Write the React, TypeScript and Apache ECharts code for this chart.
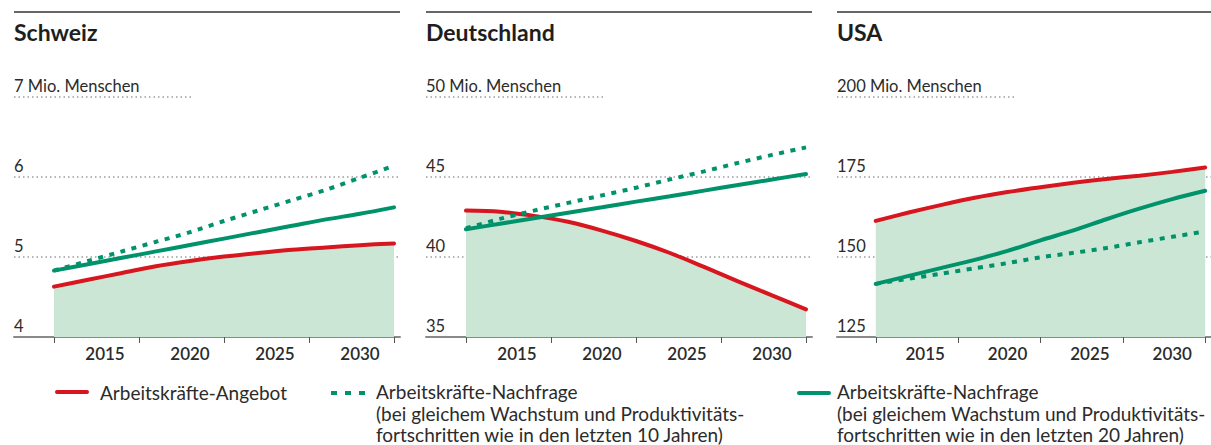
import React, { useEffect, useRef } from "react";
import * as echarts from "echarts";

// ---------- data ----------
const years = [2012, 2014, 2016, 2018, 2020, 2022, 2024, 2026, 2028, 2030, 2032];
const tickYears = [2012, 2017, 2022, 2027, 2032];
const labelYears = [2015, 2020, 2025, 2030];
const panelTitles = ["Schweiz", "Deutschland", "USA"];
const unitLabel = "Mio. Menschen";

// Schweiz
const chAngebot = [4.63, 4.715, 4.8, 4.885, 4.95, 5.005, 5.05, 5.09, 5.12, 5.148, 5.17];
const chNachfrage10 = [4.83, 4.95, 5.07, 5.19, 5.31, 5.45, 5.58, 5.71, 5.84, 5.99, 6.14];
const chNachfrage20 = [4.83, 4.91, 4.99, 5.07, 5.15, 5.23, 5.31, 5.39, 5.47, 5.54, 5.62];
// Deutschland
const deAngebot = [42.9, 42.83, 42.57, 42.2, 41.65, 41.0, 40.25, 39.38, 38.48, 37.6, 36.73];
const deNachfrage10 = [41.8, 42.38, 42.9, 43.38, 43.85, 44.33, 44.85, 45.35, 45.88, 46.38, 46.85];
const deNachfrage20 = [41.73, 42.08, 42.42, 42.77, 43.11, 43.46, 43.8, 44.15, 44.5, 44.84, 45.19];
// USA
const usAngebot = [161.3, 163.9, 166.3, 168.5, 170.3, 171.8, 173.2, 174.4, 175.4, 176.6, 178.0];
const usNachfrage10 = [141.6, 143.2, 144.8, 146.5, 148.1, 149.9, 151.3, 152.8, 154.6, 156.3, 158.0];
const usNachfrage20 = [141.6, 144.1, 146.6, 149.1, 151.9, 155.2, 158.3, 161.8, 165.1, 168.1, 170.7];

// y scales: [min, max, interval]
const yScales = [
  [4, 7, 1],
  [35, 50, 5],
  [125, 200, 25],
];

const legendAngebot = "Arbeitskräfte-Angebot";
const legendNachfrage10 = [
  "Arbeitskräfte-Nachfrage",
  "(bei gleichem Wachstum und Produktivitäts-",
  "fortschritten wie in den letzten 10 Jahren)",
];
const legendNachfrage20 = [
  "Arbeitskräfte-Nachfrage",
  "(bei gleichem Wachstum und Produktivitäts-",
  "fortschritten wie in den letzten 20 Jahren)",
];

const panelData = [
  [chAngebot, chNachfrage10, chNachfrage20],
  [deAngebot, deNachfrage10, deNachfrage20],
  [usAngebot, usNachfrage10, usNachfrage20],
];

// ---------- style ----------
const RED = "#d7161f";
const GREEN = "#00926a";
const FILL = "#cce6d5";
const FONT = "Lato, 'Open Sans', sans-serif";
const TEXT = "#2b2b2b";

const panelLefts = [14, 426, 837];
const panelWidth = 386;
const plotTop = 97;
const plotHeight = 240;
const dataOffset = 40; // px from panel left to first data year
const pxPerYear = 17;

export default function App() {
  const ref = useRef<HTMLDivElement>(null);

  useEffect(() => {
    if (!ref.current) return;
    const chart = echarts.init(ref.current, undefined, { renderer: "svg" });

    const xMin = years[0] - dataOffset / pxPerYear;
    const xMax = years[0] + (panelWidth - dataOffset) / pxPerYear;

    const grids: any[] = [];
    const xAxes: any[] = [];
    const yAxes: any[] = [];
    const series: any[] = [];
    const graphic: any[] = [];

    panelLefts.forEach((left, i) => {
      grids.push({ left, top: plotTop, width: panelWidth, height: plotHeight, containLabel: false });
      xAxes.push({
        type: "value",
        gridIndex: i,
        min: xMin,
        max: xMax,
        axisLine: { show: true, lineStyle: { color: "#8a8a8a", width: 2 } },
        axisTick: {
          show: true,
          customValues: tickYears,
          length: 6,
          lineStyle: { color: "#555", width: 1 },
        },
        axisLabel: {
          show: true,
          customValues: labelYears,
          margin: 8,
          color: TEXT,
          fontFamily: FONT,
          fontSize: 17,
          fontWeight: 600,
          formatter: (v: number) => String(Math.round(v)),
        },
        splitLine: { show: false },
      });
      const [mn, mx, iv] = yScales[i];
      yAxes.push({
        type: "value",
        gridIndex: i,
        min: mn,
        max: mx,
        interval: iv,
        axisLine: { show: false },
        axisTick: { show: false },
        axisLabel: {
          inside: true,
          margin: 0,
          align: "left",
          verticalAlign: "bottom",
          padding: [0, 0, 3, 0],
          color: TEXT,
          fontFamily: FONT,
          fontSize: 16.5,
          formatter: (v: number) => (v === mx ? `${v} ${unitLabel}` : `${v}`),
        },
        splitLine: {
          show: true,
          showMinLine: false,
          showMaxLine: false,
          lineStyle: { color: "#9c9c9c", width: 1.5, type: [1.5, 3] },
        },
      });
      const [ang, n10, n20] = panelData[i];
      const toPts = (arr: number[]) => years.map((y, k) => [y, arr[k]]);
      series.push({
        type: "line",
        xAxisIndex: i,
        yAxisIndex: i,
        data: toPts(ang),
        smooth: 0.3,
        symbol: "none",
        lineStyle: { color: RED, width: 4, cap: "round" },
        areaStyle: { color: FILL, opacity: 1, origin: "start" },
        z: 2,
      });
      series.push({
        type: "line",
        xAxisIndex: i,
        yAxisIndex: i,
        data: toPts(n10),
        smooth: 0.3,
        symbol: "none",
        lineStyle: { color: GREEN, width: 4, type: [5, 6.5] },
        z: 3,
      });
      series.push({
        type: "line",
        xAxisIndex: i,
        yAxisIndex: i,
        data: toPts(n20),
        smooth: 0.3,
        symbol: "none",
        lineStyle: { color: GREEN, width: 4, cap: "round" },
        z: 4,
      });

      // top rule
      graphic.push({
        type: "line",
        shape: { x1: left, y1: 12, x2: left + panelWidth, y2: 12 },
        style: { stroke: "#333", lineWidth: 1.5 },
      });
      // title
      graphic.push({
        type: "text",
        x: left,
        y: 32,
        style: {
          text: panelTitles[i],
          font: `bold 23px ${FONT}`,
          fill: "#1e1e1e",
          verticalAlign: "middle",
          align: "left",
        },
      });
      // short dotted line under unit label
      graphic.push({
        type: "line",
        shape: { x1: left, y1: plotTop, x2: left + 178, y2: plotTop },
        style: { stroke: "#9c9c9c", lineWidth: 1.5, lineDash: [1.5, 3] },
      });
    });

    // legend
    const legFont = `19px ${FONT}`;
    graphic.push({
      type: "line",
      shape: { x1: 57, y1: 392, x2: 87, y2: 392 },
      style: { stroke: RED, lineWidth: 4, lineCap: "round" },
    });
    graphic.push({
      type: "text",
      x: 100,
      y: 392,
      style: { text: legendAngebot, font: legFont, fill: TEXT, verticalAlign: "middle" },
    });
    graphic.push({
      type: "line",
      shape: { x1: 331, y1: 393, x2: 371, y2: 393 },
      style: { stroke: GREEN, lineWidth: 4, lineDash: [6, 8] },
    });
    graphic.push({
      type: "text",
      x: 376,
      y: 381,
      style: {
        text: legendNachfrage10.join("\n"),
        font: legFont,
        fill: TEXT,
        verticalAlign: "top",
        lineHeight: 21.5,
      },
    });
    graphic.push({
      type: "line",
      shape: { x1: 799, y1: 393, x2: 829, y2: 393 },
      style: { stroke: GREEN, lineWidth: 4, lineCap: "round" },
    });
    graphic.push({
      type: "text",
      x: 837,
      y: 381,
      style: {
        text: legendNachfrage20.join("\n"),
        font: legFont,
        fill: TEXT,
        verticalAlign: "top",
        lineHeight: 21.5,
      },
    });

    chart.setOption({
      animation: false,
      backgroundColor: "#ffffff",
      grid: grids,
      xAxis: xAxes,
      yAxis: yAxes,
      series,
      graphic,
    });

    return () => chart.dispose();
  }, []);

  return (
    <div
      ref={ref}
      style={{ position: "absolute", left: 0, top: 0, width: 1211, height: 445 }}
    />
  );
}
